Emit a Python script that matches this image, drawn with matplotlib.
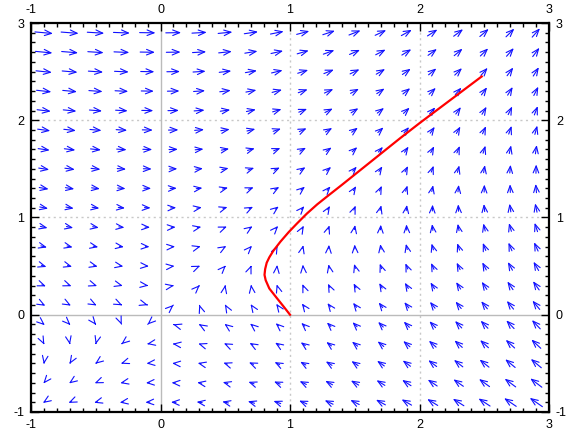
import numpy as np
import matplotlib
matplotlib.use('Agg')
import matplotlib.pyplot as plt

plt.rcParams['font.family'] = ['Liberation Sans', 'DejaVu Sans']
plt.rcParams['axes.unicode_minus'] = False

# grid of arrow centres
x_vals = [-0.9, -0.7, -0.5, -0.3, -0.1, 0.1, 0.3, 0.5, 0.7, 0.9,
          1.1, 1.3, 1.5, 1.7, 1.9, 2.1, 2.3, 2.5, 2.7, 2.9]
y_vals = [-0.9, -0.7, -0.5, -0.3, -0.1, 0.1, 0.3, 0.5, 0.7, 0.9,
          1.1, 1.3, 1.5, 1.7, 1.9, 2.1, 2.3, 2.5, 2.7, 2.9]

# horizontal component, one row per y value (bottom row first)
u_rows = [
    [-0.45, -0.55, -0.65, -0.75, -0.85, -0.95, -1.05, -1.15, -1.25, -1.35, -1.45, -1.55, -1.65, -1.75, -1.85, -1.95, -2.05, -2.15, -2.25, -2.35],
    [-0.25, -0.35, -0.45, -0.55, -0.65, -0.75, -0.85, -0.95, -1.05, -1.15, -1.25, -1.35, -1.45, -1.55, -1.65, -1.75, -1.85, -1.95, -2.05, -2.15],
    [-0.05, -0.15, -0.25, -0.35, -0.45, -0.55, -0.65, -0.75, -0.85, -0.95, -1.05, -1.15, -1.25, -1.35, -1.45, -1.55, -1.65, -1.75, -1.85, -1.95],
    [0.15, 0.05, -0.05, -0.15, -0.25, -0.35, -0.45, -0.55, -0.65, -0.75, -0.85, -0.95, -1.05, -1.15, -1.25, -1.35, -1.45, -1.55, -1.65, -1.75],
    [0.35, 0.25, 0.15, 0.05, -0.05, -0.15, -0.25, -0.35, -0.45, -0.55, -0.65, -0.75, -0.85, -0.95, -1.05, -1.15, -1.25, -1.35, -1.45, -1.55],
    [0.55, 0.45, 0.35, 0.25, 0.15, 0.05, -0.05, -0.15, -0.25, -0.35, -0.45, -0.55, -0.65, -0.75, -0.85, -0.95, -1.05, -1.15, -1.25, -1.35],
    [0.75, 0.65, 0.55, 0.45, 0.35, 0.25, 0.15, 0.05, -0.05, -0.15, -0.25, -0.35, -0.45, -0.55, -0.65, -0.75, -0.85, -0.95, -1.05, -1.15],
    [0.95, 0.85, 0.75, 0.65, 0.55, 0.45, 0.35, 0.25, 0.15, 0.05, -0.05, -0.15, -0.25, -0.35, -0.45, -0.55, -0.65, -0.75, -0.85, -0.95],
    [1.15, 1.05, 0.95, 0.85, 0.75, 0.65, 0.55, 0.45, 0.35, 0.25, 0.15, 0.05, -0.05, -0.15, -0.25, -0.35, -0.45, -0.55, -0.65, -0.75],
    [1.35, 1.25, 1.15, 1.05, 0.95, 0.85, 0.75, 0.65, 0.55, 0.45, 0.35, 0.25, 0.15, 0.05, -0.05, -0.15, -0.25, -0.35, -0.45, -0.55],
    [1.55, 1.45, 1.35, 1.25, 1.15, 1.05, 0.95, 0.85, 0.75, 0.65, 0.55, 0.45, 0.35, 0.25, 0.15, 0.05, -0.05, -0.15, -0.25, -0.35],
    [1.75, 1.65, 1.55, 1.45, 1.35, 1.25, 1.15, 1.05, 0.95, 0.85, 0.75, 0.65, 0.55, 0.45, 0.35, 0.25, 0.15, 0.05, -0.05, -0.15],
    [1.95, 1.85, 1.75, 1.65, 1.55, 1.45, 1.35, 1.25, 1.15, 1.05, 0.95, 0.85, 0.75, 0.65, 0.55, 0.45, 0.35, 0.25, 0.15, 0.05],
    [2.15, 2.05, 1.95, 1.85, 1.75, 1.65, 1.55, 1.45, 1.35, 1.25, 1.15, 1.05, 0.95, 0.85, 0.75, 0.65, 0.55, 0.45, 0.35, 0.25],
    [2.35, 2.25, 2.15, 2.05, 1.95, 1.85, 1.75, 1.65, 1.55, 1.45, 1.35, 1.25, 1.15, 1.05, 0.95, 0.85, 0.75, 0.65, 0.55, 0.45],
    [2.55, 2.45, 2.35, 2.25, 2.15, 2.05, 1.95, 1.85, 1.75, 1.65, 1.55, 1.45, 1.35, 1.25, 1.15, 1.05, 0.95, 0.85, 0.75, 0.65],
    [2.75, 2.65, 2.55, 2.45, 2.35, 2.25, 2.15, 2.05, 1.95, 1.85, 1.75, 1.65, 1.55, 1.45, 1.35, 1.25, 1.15, 1.05, 0.95, 0.85],
    [2.95, 2.85, 2.75, 2.65, 2.55, 2.45, 2.35, 2.25, 2.15, 2.05, 1.95, 1.85, 1.75, 1.65, 1.55, 1.45, 1.35, 1.25, 1.15, 1.05],
    [3.15, 3.05, 2.95, 2.85, 2.75, 2.65, 2.55, 2.45, 2.35, 2.25, 2.15, 2.05, 1.95, 1.85, 1.75, 1.65, 1.55, 1.45, 1.35, 1.25],
    [3.35, 3.25, 3.15, 3.05, 2.95, 2.85, 2.75, 2.65, 2.55, 2.45, 2.35, 2.25, 2.15, 2.05, 1.95, 1.85, 1.75, 1.65, 1.55, 1.45],
]

# vertical component, read as the same down each column
v_cols = [-0.40, -0.33, -0.25, -0.16, -0.06, 0.06, 0.20, 0.35, 0.50, 0.66,
          0.82, 0.98, 1.13, 1.28, 1.43, 1.58, 1.73, 1.88, 2.03, 2.18]

# red trajectory
curve_x = [1.00, 0.95, 0.89, 0.84, 0.812, 0.803, 0.808, 0.82, 0.84, 0.87,
           0.925, 0.99, 1.055, 1.13, 1.21, 1.29, 1.40, 1.55, 1.70, 1.85,
           2.00, 2.15, 2.32, 2.48]
curve_y = [0.00, 0.085, 0.185, 0.27, 0.355, 0.41, 0.47, 0.535, 0.59, 0.655,
           0.75, 0.85, 0.94, 1.04, 1.135, 1.22, 1.335, 1.495, 1.655, 1.815,
           1.97, 2.12, 2.29, 2.45]

scale = 0.0415

fig = plt.figure(figsize=(5.68, 4.30), dpi=100)
ax = fig.add_axes([0.0546, 0.0419, 0.912, 0.9046])

# grid and zero axes
for g in [1, 2]:
    ax.axvline(g, color='#c8c8c8', lw=1, ls=(0, (1.5, 2.5)), zorder=0)
    ax.axhline(g, color='#c8c8c8', lw=1, ls=(0, (1.5, 2.5)), zorder=0)
ax.axvline(0, color='#bbbbbb', lw=1, zorder=0)
ax.axhline(0, color='#bbbbbb', lw=1, zorder=0)

U = np.array(u_rows)
V = np.tile(np.array(v_cols), (len(y_vals), 1))

for i, yc in enumerate(y_vals):
    for j, xc in enumerate(x_vals):
        du = scale * U[i, j]
        dv = scale * V[i, j]
        ax.annotate('', xy=(xc + du / 2, yc + dv / 2), xytext=(xc - du / 2, yc - dv / 2),
                    arrowprops=dict(arrowstyle='->,head_length=0.5,head_width=0.2',
                                    color='#1010ff', lw=0.8, shrinkA=0, shrinkB=0),
                    zorder=2)

ax.plot(curve_x, curve_y, color='red', lw=1.6, zorder=3)

ax.set_xlim(-1, 3)
ax.set_ylim(-1, 3)
ax.set_xticks([-1, 0, 1, 2, 3])
ax.set_yticks([-1, 0, 1, 2, 3])
ax.set_xticks(np.arange(-1, 3.01, 0.1), minor=True)
ax.set_yticks(np.arange(-1, 3.01, 0.1), minor=True)
ax.tick_params(which='both', direction='in', top=True, right=True,
               labeltop=True, labelright=True, labelsize=9, width=1)
ax.tick_params(which='major', length=6, pad=5)
ax.tick_params(which='minor', length=3)
for s in ax.spines.values():
    s.set_linewidth(1.6)

fig.savefig('out.png', dpi=100)
